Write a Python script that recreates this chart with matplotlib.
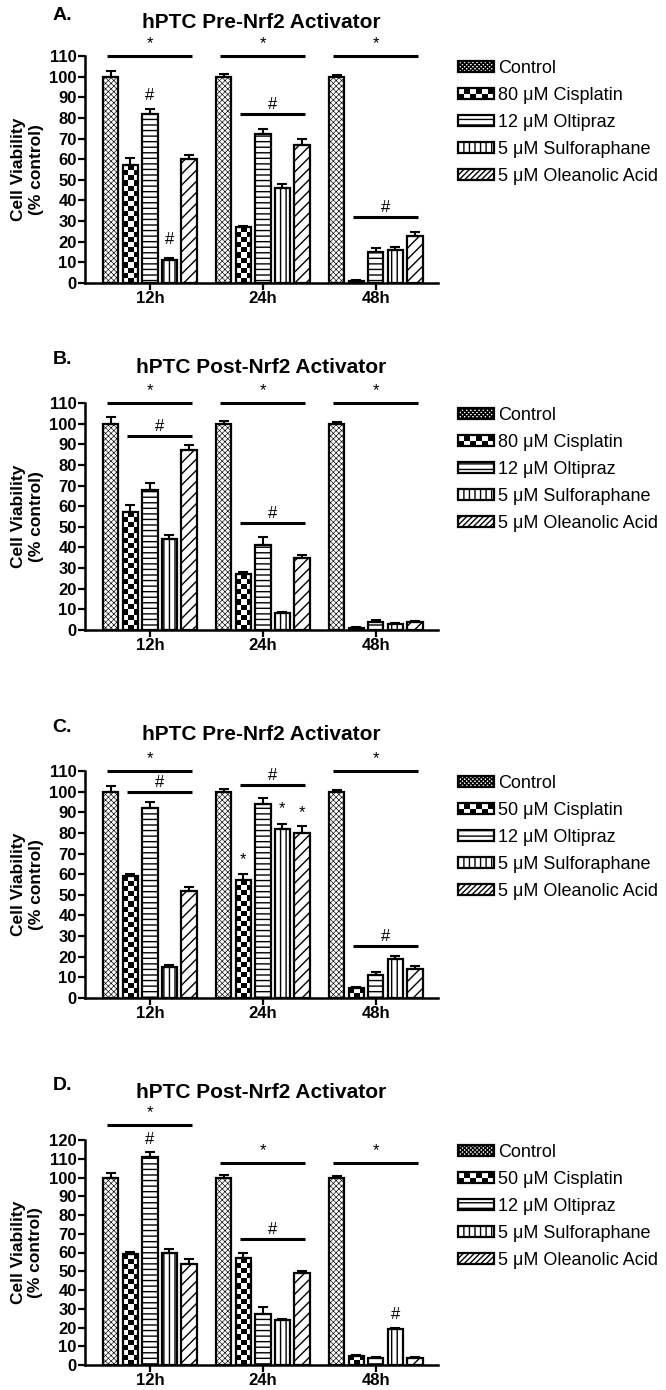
import matplotlib
matplotlib.use("Agg")
import matplotlib.pyplot as plt
import numpy as np
from matplotlib.patches import Rectangle
from matplotlib.legend_handler import HandlerBase

plt.rcParams['font.family'] = ['Liberation Sans', 'DejaVu Sans']

groups = ['12h', '24h', '48h']
treat_80 = ['Control', '80 \u03bcM Cisplatin', '12 \u03bcM Oltipraz',
            '5 \u03bcM Sulforaphane', '5 \u03bcM Oleanolic Acid']
treat_50 = ['Control', '50 \u03bcM Cisplatin', '12 \u03bcM Oltipraz',
            '5 \u03bcM Sulforaphane', '5 \u03bcM Oleanolic Acid']

# rows = treatment, columns = 12h, 24h, 48h
a_mean = [[100, 100, 100], [57, 27, 1], [82, 72, 15], [11, 46, 16], [60, 67, 23]]
a_err = [[2.5, 1.5, 1], [3.5, 0.8, 0.3], [2.5, 2.5, 2], [1, 2, 1.5], [2, 3, 1.8]]
b_mean = [[100, 100, 100], [57, 27, 1], [68, 41, 4], [44, 8, 3], [87, 35, 4]]
b_err = [[3, 1.5, 1], [3.5, 1, 0.3], [3, 4, 1], [2, 0.5, 0.5], [2.5, 1.5, 0.5]]
c_mean = [[100, 100, 100], [59, 57, 5], [92, 94, 11], [15, 82, 19], [52, 80, 14]]
c_err = [[2.5, 1.5, 1], [1, 3, 0.5], [3, 3, 1.5], [0.8, 2.5, 1.2], [2, 3.5, 1.5]]
d_mean = [[100, 100, 100], [59, 57, 5], [111, 27, 4], [60, 24, 19], [54, 49, 4]]
d_err = [[2.5, 1.5, 1], [1.5, 2.5, 0.5], [2.5, 4, 0.5], [2, 0.5, 0.5], [2.5, 1, 0.3]]

# significance bars: (group, first bar, last bar, level, symbol)
a_lines = [(0, 0, 4, 110, '*'), (1, 0, 4, 110, '*'), (2, 0, 4, 110, '*'),
           (1, 1, 4, 82, '#'), (2, 1, 4, 32, '#')]
a_marks = [(0, 2, 91, '#'), (0, 3, 21, '#')]
b_lines = [(0, 0, 4, 110, '*'), (1, 0, 4, 110, '*'), (2, 0, 4, 110, '*'),
           (0, 1, 4, 94, '#'), (1, 1, 4, 52, '#')]
b_marks = []
c_lines = [(0, 0, 4, 110, '*'), (0, 1, 4, 100, '#'), (1, 1, 4, 103, '#'),
           (2, 0, 4, 110, '*'), (2, 1, 4, 25, '#')]
c_marks = [(1, 1, 67, '*'), (1, 3, 92, '*'), (1, 4, 90, '*')]
d_lines = [(0, 0, 4, 128, '*'), (1, 0, 4, 108, '*'), (2, 0, 4, 108, '*'),
           (1, 1, 4, 67, '#')]
d_marks = [(0, 2, 120, '#'), (2, 3, 27, '#')]

hatches = ['xxxxxx', None, '---', '|||', '///']
legend_hatches = ['xxxxxxxx', None, '---', '|||', '//////']
slot = 0.173
bar_w = 0.135

W, H = 666, 1390


class CheckerHandler(HandlerBase):
    def create_artists(self, legend, orig_handle, xdescent, ydescent,
                       width, height, fontsize, trans):
        arts = [Rectangle((-xdescent, -ydescent), width, height,
                          facecolor='white', edgecolor='none', transform=trans)]
        n = 2
        s = height / n
        ncol = int(round(width / s))
        sw = width / ncol
        for i in range(ncol):
            for j in range(n):
                if (i + j) % 2 == 0:
                    arts.append(Rectangle((-xdescent + i * sw, -ydescent + j * s), sw, s,
                                          facecolor='black', edgecolor='none',
                                          transform=trans))
        arts.append(Rectangle((-xdescent, -ydescent), width, height, facecolor='none',
                              edgecolor='black', lw=1.6, transform=trans))
        return arts


def panel(fig, top_px, bot_px, letter, title, title_gap, means, errs, labels,
          lines, marks, ymax, ymax_tick):
    ax = fig.add_axes([85 / W, 1 - bot_px / H, (438 - 85) / W, (bot_px - top_px) / H])
    ax.set_xlim(-0.575, 2.55)
    ax.set_ylim(0, ymax)
    hpx = bot_px - top_px
    x0 = np.arange(len(groups))
    for i in range(5):
        xs = x0 + (i - 2) * slot
        plt.rcParams['hatch.linewidth'] = 0.45 if i == 0 else 1.0
        bars = ax.bar(xs, means[i], bar_w, facecolor='white' if i != 1 else 'none',
                      edgecolor='black', linewidth=1.6, hatch=hatches[i], zorder=2)
        ax.errorbar(xs, means[i], yerr=[np.zeros(3), errs[i]], fmt='none',
                    ecolor='black', elinewidth=1.5, capsize=3.5, capthick=1.5, zorder=3)
        if i == 1:
            for b in bars:
                bx, bw, bh = b.get_x(), b.get_width(), b.get_height()
                p0 = ax.transData.transform((bx, 0))
                p1 = ax.transData.transform((bx + bw, bh))
                sq = (p1[0] - p0[0]) / 3
                nrow = max(1, int(round((p1[1] - p0[1]) / sq)))
                arr = (np.add.outer(np.arange(nrow), np.arange(3)) % 2).astype(float)
                ax.imshow(arr, cmap='gray_r', extent=(bx, bx + bw, 0, bh), aspect='auto',
                          interpolation='nearest', origin='lower', zorder=1, vmin=0, vmax=1)
    ax.set_xlim(-0.575, 2.55)
    ax.set_ylim(0, ymax)

    # legend proxies
    handles = []
    for i in range(5):
        plt.rcParams['hatch.linewidth'] = 0.45 if i == 0 else 1.0
        handles.append(Rectangle((0, 0), 1, 1, facecolor='white', edgecolor='black',
                                 linewidth=1.6, hatch=legend_hatches[i]))

    for g, i0, i1, y, sym in lines:
        xa = g + (i0 - 2) * slot - 0.03
        xb = g + (i1 - 2) * slot + 0.03
        ax.plot([xa, xb], [y, y], color='black', lw=2.2, clip_on=False, zorder=4,
                solid_capstyle='butt')
        ax.text((xa + xb) / 2, y + (2.5 if sym == '*' else 1.0), sym, ha='center',
                va='bottom', fontsize=12, clip_on=False)
    for g, i, y, sym in marks:
        ax.text(g + (i - 2) * slot, y, sym, ha='center', va='center',
                fontsize=12, clip_on=False)

    for s in ['top', 'right']:
        ax.spines[s].set_visible(False)
    for s in ['left', 'bottom']:
        ax.spines[s].set_linewidth(1.8)
    ax.set_yticks(np.arange(0, ymax_tick + 1, 10))
    ax.set_xticks(x0)
    ax.set_xticklabels(groups)
    ax.tick_params(axis='both', width=1.6, length=5, labelsize=12, pad=1)
    for t in ax.get_xticklabels() + ax.get_yticklabels():
        t.set_fontweight('bold')
    ax.set_ylabel('Cell Viability\n(% control)', fontsize=12.5, fontweight='bold',
                  labelpad=4)

    ax.text(0.5, 1 + title_gap / hpx, title, transform=ax.transAxes, ha='center',
            va='center', fontsize=15, fontweight='bold')
    ax.text(-23 / 353, 1 + (title_gap + 7) / hpx, letter, transform=ax.transAxes,
            ha='center', va='center', fontsize=14, fontweight='bold')

    ax.legend(handles, labels, loc='upper left',
              bbox_to_anchor=(1 + 20 / 353, 1 - 4 / hpx), frameon=False,
              fontsize=13, handlelength=2.0, handleheight=0.6,
              handletextpad=0.2, labelspacing=0.55, borderpad=0,
              borderaxespad=0, handler_map={handles[1]: CheckerHandler()})
    return ax


fig = plt.figure(figsize=(6.66, 13.9), dpi=100)
panel(fig, 56, 283, 'A.', 'hPTC Pre-Nrf2 Activator', 34, a_mean, a_err, treat_80,
      a_lines, a_marks, 110, 110)
panel(fig, 403, 630, 'B.', 'hPTC Post-Nrf2 Activator', 36, b_mean, b_err, treat_80,
      b_lines, b_marks, 110, 110)
panel(fig, 771, 998, 'C.', 'hPTC Pre-Nrf2 Activator', 36, c_mean, c_err, treat_50,
      c_lines, c_marks, 110, 110)
panel(fig, 1140, 1365, 'D.', 'hPTC Post-Nrf2 Activator', 48, d_mean, d_err, treat_50,
      d_lines, d_marks, 120, 120)

fig.savefig('out.png', dpi=100)
